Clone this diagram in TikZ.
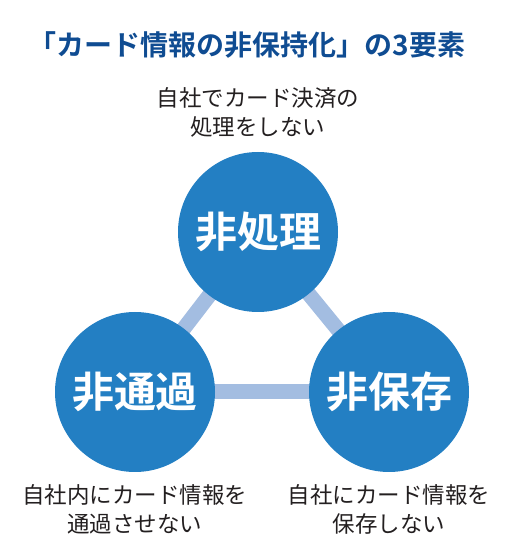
\documentclass[tikz,border=0pt]{standalone}
\usepackage{fontspec}
\newfontfamily\jpfont{Noto Sans CJK JP}[BoldFont={Noto Sans CJK JP Bold}]
\usetikzlibrary{positioning,backgrounds}
\definecolor{titleBlue}{HTML}{0F4C92}
\definecolor{circBlue}{HTML}{237FC3}
\definecolor{linkBlue}{HTML}{A3BDE1}
\definecolor{textDark}{HTML}{231F20}
\tikzset{
  elem/.style={circle, fill=circBlue, text=white, minimum size=160pt, inner sep=0pt,
               font=\jpfont\bfseries\fontsize{42}{46}\selectfont},
  desc/.style={font=\jpfont\fontsize{22.5}{29}\selectfont, text=textDark, align=center, inner sep=0pt},
  link/.style={line width=15pt, linkBlue},
}
\begin{document}
\begin{tikzpicture}[x=1pt,y=1pt]
  \useasboundingbox (0,0) rectangle (522,558);
  % title
  \node[font=\jpfont\bfseries\fontsize{28}{32}\selectfont, text=titleBlue] (title) at (247,513)
    {「カード情報の非保持化」の3要素};
  % three elements
  \node[elem] (proc) at (258,326) {非処理};
  \node[elem] (pass) at (135,166) {非通過};
  \node[elem] (store) at (389,166) {非保存};
  \begin{scope}[on background layer]
    \draw[link] (proc.center) -- (pass.center);
    \draw[link] (proc.center) -- (store.center);
    \draw[link] (pass.center) -- (store.center);
  \end{scope}
  % descriptions
  \node[desc, above=14pt of proc] (procdesc) {自社でカード決済の\\処理をしない};
  \node[desc, below=12pt of pass] (passdesc) {自社内にカード情報を\\通過させない};
  \node[desc, below=12pt of store] (storedesc) {自社にカード情報を\\保存しない};
\end{tikzpicture}
\end{document}
